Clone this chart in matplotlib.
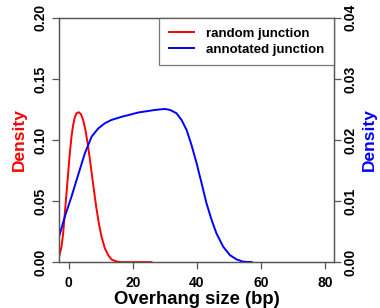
import matplotlib
matplotlib.use("Agg")
import matplotlib.pyplot as plt

plt.rcParams["font.family"] = ["Liberation Sans", "DejaVu Sans"]
plt.rcParams["font.weight"] = "bold"

# random junction density (left axis)
random_x = [-2.92, -2.29, -1.77, -1.25, -0.73, -0.21, 0.31, 0.83, 1.35, 1.88, 2.4,
            3.1, 3.75, 4.48, 5.2, 6.04, 6.88, 7.7, 8.54, 9.38, 10.2, 11.25, 12.3,
            13.3, 14.9, 16.5, 20.0, 25.8]
random_y = [0.0057, 0.0126, 0.0235, 0.040, 0.0563, 0.0727, 0.0891, 0.1027, 0.1123,
            0.1186, 0.1219, 0.1227, 0.1213, 0.1164, 0.108, 0.0945, 0.078, 0.0617,
            0.0453, 0.0317, 0.0208, 0.0112, 0.0057, 0.0022, 0.0005, 0.0, 0.0, 0.0]

# annotated junction density (right axis)
annot_x = [-2.92, -1.25, 0.83, 2.9, 5.0, 7.1, 9.2, 11.25, 13.3, 16.5, 21.7, 26.9,
           30.0, 31.6, 33.6, 35.2, 36.8, 38.3, 39.9, 41.46, 43.0, 44.6, 46.1, 48.2,
           50.3, 52.4, 54.5, 57.1]
annot_y = [0.00442, 0.00744, 0.01072, 0.01426, 0.0178, 0.02054, 0.0219, 0.02274,
           0.02328, 0.0238, 0.0245, 0.02492, 0.02508, 0.02492, 0.02438, 0.02328,
           0.0216, 0.01918, 0.01618, 0.0129, 0.0096, 0.00688, 0.0047, 0.00252,
           0.00114, 0.00044, 0.00006, 0.0]

x_ticks = [0, 20, 40, 60, 80]
left_ticks = [0.00, 0.05, 0.10, 0.15, 0.20]
right_ticks = [0.00, 0.01, 0.02, 0.03, 0.04]

spine_col = "#555555"

fig = plt.figure(figsize=(3.8, 3.08), dpi=100)
ax = fig.add_axes([0.155, 0.149, 0.724, 0.793])
ax2 = ax.twinx()

ax.plot(random_x, random_y, color="red", linewidth=1.4, label="random junction")
ax2.plot(annot_x, annot_y, color="blue", linewidth=1.4, label="annotated junction")

ax.set_xlim(-3.1, 82.8)
ax.set_ylim(0, 0.2)
ax2.set_ylim(0, 0.04)

ax.set_xticks(x_ticks)
ax.set_yticks(left_ticks)
ax.set_yticklabels([f"{v:.2f}" for v in left_ticks], rotation=90, va="center")
ax2.set_yticks(right_ticks)
ax2.set_yticklabels([f"{v:.2f}" for v in right_ticks], rotation=90, va="center")

for a in (ax, ax2):
    for s in a.spines.values():
        s.set_color(spine_col)
        s.set_linewidth(0.9)
    a.tick_params(length=5, width=0.9, color=spine_col, labelsize=10, pad=2)
ax.tick_params(axis="x", pad=5)
ax.tick_params(axis="y", pad=3)

ax.set_xlabel("Overhang size (bp)", fontsize=13.3, fontweight="bold", labelpad=0.5)
ax.set_ylabel("Density", fontsize=12.5, fontweight="bold", color="red", labelpad=5)
ax2.set_ylabel("Density", fontsize=12.5, fontweight="bold", color="blue", labelpad=3)

h1, l1 = ax.get_legend_handles_labels()
h2, l2 = ax2.get_legend_handles_labels()
leg = ax2.legend(h1 + h2, l1 + l2, loc="upper right", fontsize=9.5, frameon=True,
                 fancybox=False, borderaxespad=0, handlelength=1.9, handletextpad=0.9,
                 borderpad=0.75, labelspacing=0.25)
leg.get_frame().set_edgecolor(spine_col)
leg.get_frame().set_linewidth(0.9)

fig.savefig("out.png", dpi=100, facecolor="white")
